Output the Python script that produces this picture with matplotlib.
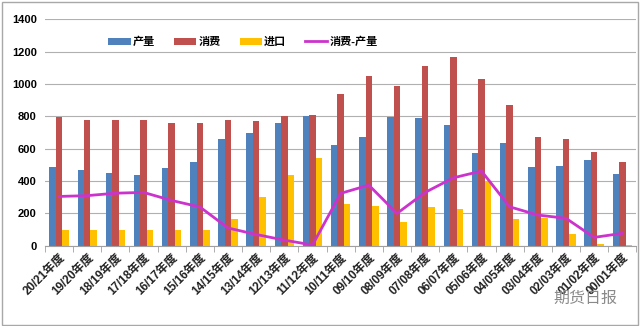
import matplotlib
matplotlib.use("Agg")
import matplotlib.pyplot as plt
import numpy as np
from matplotlib.patches import Rectangle

plt.rcParams["font.family"] = ["Liberation Sans", "Noto Sans CJK SC", "DejaVu Sans"]

seasons = ["20/21年度", "19/20年度", "18/19年度", "17/18年度", "16/17年度", "15/16年度",
           "14/15年度", "13/14年度", "12/13年度", "11/12年度", "10/11年度", "09/10年度",
           "08/09年度", "07/08年度", "06/07年度", "05/06年度", "04/05年度", "03/04年度",
           "02/03年度", "01/02年度", "00/01年度"]
production = [490, 470, 450, 440, 480, 520, 660, 700, 760, 800, 621, 674,
              798, 788, 748, 571, 633, 489, 491, 530, 441]
consumption = [795, 780, 775, 775, 760, 757, 775, 770, 800, 808, 936, 1047,
               986, 1111, 1169, 1029, 870, 674, 660, 581, 517]
imports = [95, 95, 95, 95, 100, 95, 165, 300, 435, 545, 256, 247,
           145, 241, 225, 400, 165, 169, 72, 10, 2]
gap = [305, 310, 325, 330, 280, 240, 110, 70, 35, 5, 324, 375,
       200, 330, 420, 462, 241, 190, 170, 52, 77]

x = np.arange(len(seasons))
w = 0.23

fig = plt.figure(figsize=(6.4, 3.26), dpi=100)
ax = fig.add_axes([0.0703, 0.246, 0.924, 0.695])

b1 = ax.bar(x - w, production, w, color="#4F81BD", label="产量", zorder=2)
b2 = ax.bar(x, consumption, w, color="#C0504D", label="消费", zorder=2)
b3 = ax.bar(x + w, imports, w, color="#FFC000", label="进口", zorder=2)
ln, = ax.plot(x, gap, color="#CC33CC", lw=2, label="消费-产量", zorder=3)

ax.set_xlim(-0.5, len(seasons) - 0.5)
ax.set_ylim(0, 1400)
ax.set_yticks(range(0, 1401, 200))
ax.yaxis.grid(True, color="#B0B0B0", lw=0.8, zorder=0)
ax.set_axisbelow(True)

for s in ("top", "right", "left"):
    ax.spines[s].set_visible(False)
ax.spines["bottom"].set_color("#A0A0A0")

ax.set_xticks(x)
ax.set_xticklabels(seasons, rotation=45, ha="right", rotation_mode="anchor",
                   fontsize=8.5, fontweight="bold", color="#222222")
ax.set_xticks(np.arange(-0.5, len(seasons), 1), minor=True)
ax.tick_params(axis="x", which="major", length=0, pad=4)
ax.tick_params(axis="x", which="minor", length=4, color="#A0A0A0")
ax.tick_params(axis="y", length=0, labelsize=8, pad=6)
for t in ax.get_yticklabels():
    t.set_fontweight("bold")

leg = ax.legend([b1, b2, b3, ln], ["产量", "消费", "进口", "消费-产量"],
                loc="center", bbox_to_anchor=(0.335, 0.9), ncol=4, frameon=False,
                fontsize=8, handlelength=2.0, handleheight=0.6, columnspacing=1.7,
                handletextpad=0.2)
for t in leg.get_texts():
    t.set_fontweight("bold")

fig.text(0.865, 0.085, "期货日报", fontsize=11.5, color="#8A8A8A",
         family=["Noto Sans CJK SC"], ha="left", va="center")

fig.patches.append(Rectangle((0.003, 0.004), 0.994, 0.99, transform=fig.transFigure,
                             fill=False, edgecolor="#A8A8A8", lw=1))

fig.savefig("out.png", dpi=100)
